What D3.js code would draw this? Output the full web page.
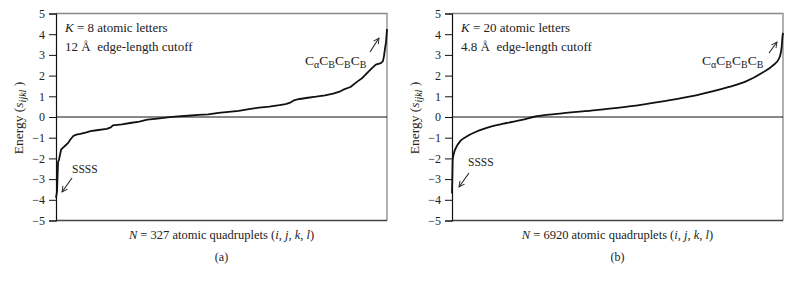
<!DOCTYPE html>
<html>
<head>
<meta charset="utf-8">
<script src="https://cdn.jsdelivr.net/npm/d3@7"></script>
<style>
  body { margin: 0; background: #fff; }
  text { font-family: "Liberation Serif", "DejaVu Serif", serif; fill: #222; white-space: pre; }
</style>
</head>
<body>
<div class="chart"></div>
<script>
var svgWidth = 792;
var svgHeight = 286;

// y ticks shared by both panels
var yTicks = [-5, -4, -3, -2, -1, 0, 1, 2, 3, 4, 5];

// panel (a): K = 8, N = 327 (sorted energies, read at key ranks)
var rankA = [0, 1, 2, 3, 5, 7, 9, 12, 14, 17, 20, 24, 30, 34, 40, 50, 54, 56, 65, 73, 82, 90, 100, 112, 120, 130, 140,
  150, 160, 170, 180, 190, 200, 210, 220, 226, 230, 235, 240, 248, 256, 265, 273, 280, 283, 290, 297, 302, 308, 312,
  315, 320, 322, 323, 324, 325, 326];
var energyA = [-3.91, -3.6, -2.19, -2.05, -1.58, -1.48, -1.39, -1.25, -1.1, -0.92, -0.85, -0.81, -0.74, -0.68, -0.64,
  -0.57, -0.5, -0.4, -0.36, -0.29, -0.22, -0.13, -0.08, -0.01, 0.03, 0.06, 0.1, 0.13, 0.2, 0.25, 0.3, 0.38, 0.45, 0.5,
  0.57, 0.62, 0.68, 0.82, 0.87, 0.93, 0.98, 1.05, 1.13, 1.24, 1.32, 1.45, 1.72, 1.9, 2.2, 2.4, 2.53, 2.6, 2.7, 2.93,
  3.3, 3.6, 4.25];

// panel (b): K = 20, N = 6920
var rankB = [0, 6, 15, 42, 98, 167, 307, 516, 794, 1143, 1490, 1699, 2258, 3010, 3700, 4404, 5100, 5790, 6146, 6495,
  6704, 6842, 6892, 6905, 6919];
var energyB = [-3.7, -3.0, -2.06, -1.74, -1.42, -1.18, -0.94, -0.7, -0.48, -0.29, -0.13, 0, 0.16, 0.33, 0.51, 0.76,
  1.05, 1.45, 1.72, 2.15, 2.48, 2.85, 3.4, 3.8, 4.06];

var svg = d3.select(".chart")
  .append("svg")
  .attr("width", svgWidth)
  .attr("height", svgHeight);

// open V arrowhead
svg.append("defs").append("marker")
  .attr("id", "arrow")
  .attr("viewBox", "0 0 10 10")
  .attr("refX", 9)
  .attr("refY", 5)
  .attr("markerWidth", 7)
  .attr("markerHeight", 7)
  .attr("markerUnits", "userSpaceOnUse")
  .attr("orient", "auto")
  .append("path")
  .attr("d", "M1,1 L9,5 L1,9")
  .attr("fill", "none")
  .attr("stroke", "#222")
  .attr("stroke-width", 1.3);

function drawPanel(p) {
  var x = d3.scaleLinear().domain([0, p.n - 1]).range([p.left, p.right]);
  var y = d3.scaleLinear().domain([-5, 5]).range([220.5, 13.5]);

  var g = svg.append("g");

  // grey frame top / right
  g.append("path")
    .attr("d", `M${p.left},${y(5)} H${p.right} V${y(-5)}`)
    .attr("fill", "none")
    .attr("stroke", "#888")
    .attr("stroke-width", 1.3);

  // bottom line
  g.append("line")
    .attr("x1", p.left).attr("x2", p.right)
    .attr("y1", y(-5)).attr("y2", y(-5))
    .attr("stroke", "#444")
    .attr("stroke-width", 1.3);

  // zero line
  g.append("line")
    .attr("x1", p.left).attr("x2", p.right)
    .attr("y1", y(0)).attr("y2", y(0))
    .attr("stroke", "#111")
    .attr("stroke-width", 1);

  // y axis
  var leftAxis = d3.axisLeft(y).tickValues(yTicks).tickSize(7).tickPadding(4)
    .tickFormat(d => d < 0 ? "\u2212" + Math.abs(d) : d);
  var ax = g.append("g")
    .attr("transform", `translate(${p.left},0)`)
    .call(leftAxis);
  ax.select(".domain").attr("stroke", "#111").attr("stroke-width", 1.2);
  ax.selectAll(".tick line").attr("stroke", "#111");
  ax.selectAll("text")
    .style("font-family", "'Liberation Serif', serif")
    .style("font-size", "12px")
    .attr("fill", "#222");

  // curve
  var line = d3.line()
    .x(d => x(d[0]))
    .y(d => y(d[1]))
    .curve(p.smooth ? d3.curveMonotoneX : d3.curveLinear);
  g.append("path")
    .datum(p.ranks.map((r, i) => [r, p.energies[i]]))
    .attr("d", line)
    .attr("fill", "none")
    .attr("stroke", "#111")
    .attr("stroke-width", 1.8)
    .attr("stroke-linejoin", "round");

  // y label
  var yl = g.append("text")
    .attr("transform", `translate(${p.left - 33},${y(0) + 1}) rotate(-90)`)
    .attr("text-anchor", "middle")
    .style("font-size", "13.5px");
  yl.append("tspan").text("Energy (");
  yl.append("tspan").attr("font-style", "italic").text("s");
  yl.append("tspan").attr("font-style", "italic").attr("font-size", "10px").attr("dy", 3).text("ijkl");
  yl.append("tspan").attr("dy", -3).text(" )");

  // x label
  var xl = g.append("text")
    .attr("x", (p.left + p.right) / 2)
    .attr("y", 239)
    .attr("text-anchor", "middle")
    .style("font-size", "12.5px");
  xl.append("tspan").attr("font-style", "italic").text("N");
  xl.append("tspan").text(` = ${p.n} atomic quadruplets (`);
  xl.append("tspan").attr("font-style", "italic").text("i");
  xl.append("tspan").text(", ");
  xl.append("tspan").attr("font-style", "italic").text("j");
  xl.append("tspan").text(", ");
  xl.append("tspan").attr("font-style", "italic").text("k");
  xl.append("tspan").text(", ");
  xl.append("tspan").attr("font-style", "italic").text("l");
  xl.append("tspan").text(")");

  // panel tag
  g.append("text")
    .attr("x", (p.left + p.right) / 2)
    .attr("y", 261)
    .attr("text-anchor", "middle")
    .style("font-size", "12px")
    .text(p.tag);

  // info text
  var t1 = g.append("text")
    .attr("x", p.left + 9)
    .attr("y", 32)
    .style("font-size", "13px");
  t1.append("tspan").attr("font-style", "italic").text("K");
  t1.append("tspan").text(` = ${p.k} atomic letters`);
  g.append("text")
    .attr("x", p.left + 9)
    .attr("y", 51)
    .style("font-size", "13px")
    .text(p.cutoff);

  // C alpha C B C B C B label
  var ct = g.append("text")
    .attr("x", p.cX)
    .attr("y", 65)
    .style("font-size", "13.5px");
  [["C", "\u03b1"], ["C", "B"], ["C", "B"], ["C", "B"]].forEach(function(pair, i) {
    ct.append("tspan").attr("dy", i === 0 ? 0 : -3).text(pair[0]);
    ct.append("tspan").attr("font-size", "10px").attr("dy", 3).text(pair[1]);
  });
  g.append("line")
    .attr("x1", p.cArrow[0]).attr("y1", p.cArrow[1])
    .attr("x2", p.cArrow[2]).attr("y2", p.cArrow[3])
    .attr("stroke", "#222").attr("stroke-width", 1.1)
    .attr("marker-end", "url(#arrow)");

  // SSSS label
  g.append("text")
    .attr("x", p.sX)
    .attr("y", p.sY)
    .style("font-size", "11.5px")
    .text("SSSS");
  g.append("line")
    .attr("x1", p.sArrow[0]).attr("y1", p.sArrow[1])
    .attr("x2", p.sArrow[2]).attr("y2", p.sArrow[3])
    .attr("stroke", "#222").attr("stroke-width", 1.1)
    .attr("marker-end", "url(#arrow)");
}

drawPanel({
  left: 56, right: 387, n: 327, k: 8, tag: "(a)", smooth: false,
  cutoff: "12 \u00c5  edge-length cutoff",
  ranks: rankA, energies: energyA,
  cX: 305, cArrow: [370, 52, 379, 38],
  sX: 72, sY: 173, sArrow: [72, 178, 62, 192]
});

drawPanel({
  left: 452, right: 783, n: 6920, k: 20, tag: "(b)", smooth: true,
  cutoff: "4.8 \u00c5  edge-length cutoff",
  ranks: rankB, energies: energyB,
  cX: 702, cArrow: [769, 53, 777, 42],
  sX: 468, sY: 166, sArrow: [469, 173, 459, 187]
});
</script>
</body>
</html>
